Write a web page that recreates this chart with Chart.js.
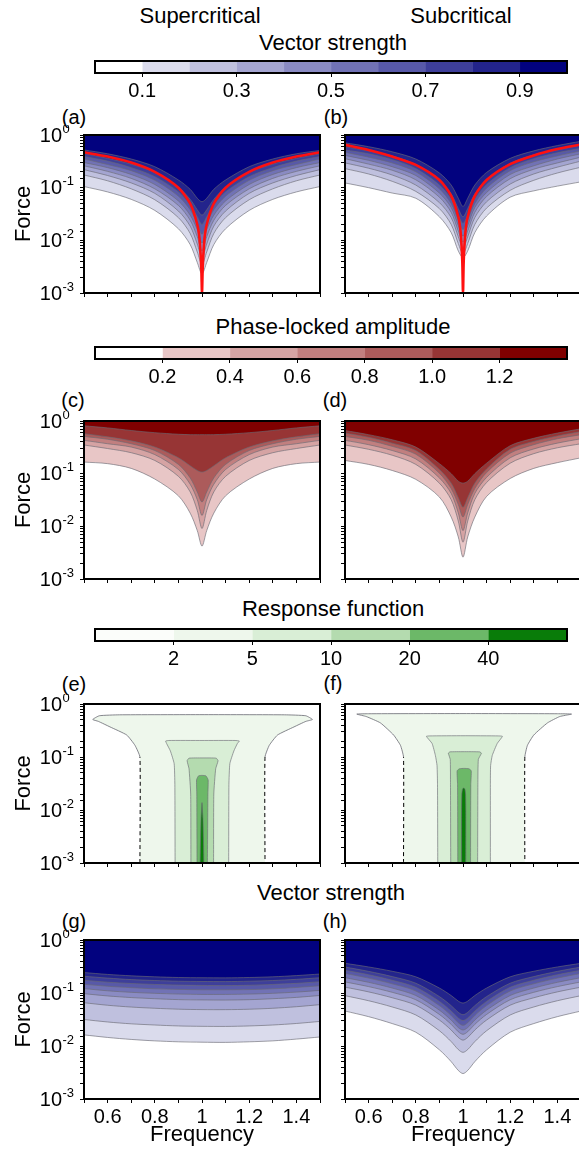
<!DOCTYPE html>
<html lang="en">
<head>
<meta charset="utf-8">
<title>Phase locking maps</title>
<script src="https://cdn.jsdelivr.net/npm/chart.js@4.4.1/dist/chart.umd.min.js"></script>
<style>
  html, body { margin: 0; padding: 0; background: #fff; overflow: hidden; }
  body { position: relative; width: 579px; height: 1151px; font-family: "Liberation Sans", Arial, Helvetica, sans-serif; color: #000; }
  canvas { position: absolute; display: block; }
  .txt { position: absolute; white-space: nowrap; line-height: 1; transform: translate(-50%, -50%); }
  .head { font-size: 22px; }
  .tag { font-size: 20px; }
</style>
</head>
<body>
<div class="txt head" style="left:200px;top:16px">Supercritical</div>
<div class="txt head" style="left:461px;top:16px">Subcritical</div>
<div class="txt head" style="left:333px;top:43px">Vector strength</div>
<div class="txt tag" style="left:74px;top:117px">(a)</div>
<div class="txt tag" style="left:336px;top:117px">(b)</div>
<div class="txt head" style="left:333px;top:327px">Phase-locked amplitude</div>
<div class="txt tag" style="left:73px;top:400px">(c)</div>
<div class="txt tag" style="left:335px;top:400px">(d)</div>
<div class="txt head" style="left:333px;top:609px">Response function</div>
<div class="txt tag" style="left:74px;top:684px">(e)</div>
<div class="txt tag" style="left:333px;top:683px">(f)</div>
<div class="txt head" style="left:331px;top:893px">Vector strength</div>
<div class="txt tag" style="left:74px;top:921px">(g)</div>
<div class="txt tag" style="left:335px;top:921px">(h)</div>

<script>
Chart.defaults.font.family = '"Liberation Sans", Arial, Helvetica, sans-serif';
Chart.defaults.color = '#000';
Chart.defaults.elements.point.radius = 0;

// ---------- shared axes ----------
const freqGrid = [0.5, 0.6, 0.7, 0.8, 0.9, 0.95, 0.98, 1.0, 1.02, 1.05, 1.1, 1.2, 1.3, 1.4, 1.5];
const freqTongue = [0.5, 0.6, 0.7, 0.8, 0.9, 0.95, 0.98, 0.99, 0.997, 1.0, 1.003, 1.01, 1.02, 1.05, 1.1, 1.2, 1.3, 1.4, 1.5];
const freqWeak = [0.5, 0.6, 0.7, 0.8, 0.9, 1.0, 1.1, 1.2, 1.3, 1.4, 1.5];
const freqTickValues = [0.6, 0.8, 1.0, 1.2, 1.4];
const freqTickLabels = ['0.6', '0.8', '1', '1.2', '1.4'];
const forceDecades = [1, 0.1, 0.01, 0.001];
const forceExponents = ['0', '-1', '-2', '-3'];

// ---------- colour scales ----------
const vsBounds = [0, 0.1, 0.2, 0.3, 0.4, 0.5, 0.6, 0.7, 0.8, 0.9, 1.0];
const vsColors = ['#ffffff', '#dadbec', '#bfc0de', '#a4a5d1', '#8a8bc3', '#7172b5', '#5859a8', '#3e3f9a', '#23248c', '#02027f'];
const vsTickValues = [0.1, 0.3, 0.5, 0.7, 0.9];
const vsTickLabels = ['0.1', '0.3', '0.5', '0.7', '0.9'];

const ampBounds = [0, 0.2, 0.4, 0.6, 0.8, 1.0, 1.2, 1.4];
const ampColors = ['#ffffff', '#e8c6c6', '#d5a3a3', '#c17f7f', '#ac5b5b', '#973535', '#800000'];
const ampTickValues = [0.2, 0.4, 0.6, 0.8, 1.0, 1.2];
const ampTickLabels = ['0.2', '0.4', '0.6', '0.8', '1.0', '1.2'];

const respLevels = [2, 5, 10, 20, 40];
const respColors = ['#fbfdfa', '#eef7ec', '#d9eed6', '#b4dbaf', '#6cb868', '#097c09'];

// ---------- (a) vector strength, supercritical: force on each level 0.1 ... 0.9 ----------
const vsSuper = [
  [0.105, 0.083, 0.060, 0.037, 0.0166, 0.0083, 0.0038, 0.0023, 0.0038, 0.0083, 0.0166, 0.037, 0.060, 0.083, 0.105],
  [0.174, 0.135, 0.095, 0.059, 0.027, 0.0135, 0.006, 0.0035, 0.006, 0.0135, 0.027, 0.059, 0.095, 0.135, 0.174],
  [0.22, 0.17, 0.123, 0.078, 0.036, 0.0186, 0.0085, 0.0047, 0.0085, 0.0186, 0.036, 0.078, 0.123, 0.17, 0.22],
  [0.26, 0.204, 0.15, 0.095, 0.046, 0.024, 0.0117, 0.0063, 0.0117, 0.024, 0.046, 0.095, 0.15, 0.204, 0.26],
  [0.30, 0.24, 0.178, 0.115, 0.056, 0.030, 0.016, 0.0089, 0.016, 0.030, 0.056, 0.115, 0.178, 0.24, 0.30],
  [0.35, 0.275, 0.21, 0.138, 0.069, 0.038, 0.021, 0.013, 0.021, 0.038, 0.069, 0.138, 0.21, 0.275, 0.35],
  [0.39, 0.32, 0.24, 0.162, 0.083, 0.047, 0.028, 0.020, 0.028, 0.047, 0.083, 0.162, 0.24, 0.32, 0.39],
  [0.45, 0.36, 0.28, 0.195, 0.102, 0.060, 0.038, 0.030, 0.038, 0.060, 0.102, 0.195, 0.28, 0.36, 0.44],
  [0.52, 0.44, 0.35, 0.25, 0.14, 0.093, 0.063, 0.054, 0.063, 0.093, 0.14, 0.25, 0.35, 0.44, 0.51]
];
const tongueSuper = [0.47, 0.39, 0.30, 0.20, 0.10, 0.05, 0.02, 0.01, 0.003, 0.001, 0.003, 0.01, 0.02, 0.05, 0.10, 0.20, 0.30, 0.39, 0.47];

// ---------- (b) vector strength, subcritical ----------
const vsSub = [
  [0.123, 0.10, 0.079, 0.063, 0.028, 0.014, 0.0063, 0.0047, 0.0063, 0.014, 0.029, 0.066, 0.087, 0.107, 0.129],
  [0.23, 0.182, 0.132, 0.085, 0.040, 0.020, 0.0087, 0.0056, 0.0087, 0.020, 0.041, 0.089, 0.138, 0.19, 0.245],
  [0.295, 0.234, 0.174, 0.112, 0.052, 0.027, 0.0117, 0.0072, 0.0117, 0.027, 0.054, 0.117, 0.182, 0.245, 0.32],
  [0.355, 0.28, 0.214, 0.141, 0.066, 0.034, 0.015, 0.0093, 0.015, 0.034, 0.068, 0.148, 0.224, 0.295, 0.38],
  [0.41, 0.33, 0.25, 0.17, 0.079, 0.042, 0.019, 0.012, 0.019, 0.042, 0.081, 0.178, 0.26, 0.35, 0.44],
  [0.47, 0.38, 0.295, 0.20, 0.095, 0.050, 0.024, 0.016, 0.024, 0.050, 0.098, 0.21, 0.31, 0.40, 0.50],
  [0.52, 0.44, 0.34, 0.23, 0.112, 0.060, 0.030, 0.021, 0.030, 0.060, 0.115, 0.24, 0.355, 0.46, 0.56],
  [0.60, 0.50, 0.40, 0.275, 0.138, 0.076, 0.040, 0.028, 0.040, 0.076, 0.141, 0.29, 0.42, 0.52, 0.65],
  [0.71, 0.60, 0.48, 0.35, 0.19, 0.112, 0.063, 0.044, 0.063, 0.112, 0.195, 0.36, 0.50, 0.63, 0.76]
];
const tongueSub = [0.65, 0.52, 0.39, 0.27, 0.14, 0.07, 0.028, 0.014, 0.004, 0.001, 0.004, 0.014, 0.028, 0.07, 0.14, 0.28, 0.41, 0.54, 0.66];

// ---------- (c) phase-locked amplitude, supercritical: levels 0.2 ... 1.2 ----------
const ampSuper = [
  [0.166, 0.155, 0.126, 0.079, 0.038, 0.0178, 0.0083, 0.0042, 0.0083, 0.0178, 0.038, 0.079, 0.126, 0.155, 0.166],
  [0.35, 0.30, 0.25, 0.178, 0.089, 0.045, 0.020, 0.0091, 0.020, 0.045, 0.089, 0.178, 0.25, 0.30, 0.35],
  [0.43, 0.37, 0.32, 0.23, 0.12, 0.063, 0.032, 0.016, 0.032, 0.063, 0.12, 0.23, 0.32, 0.37, 0.43],
  [0.51, 0.45, 0.37, 0.275, 0.15, 0.083, 0.045, 0.029, 0.045, 0.083, 0.15, 0.275, 0.37, 0.45, 0.51],
  [0.575, 0.50, 0.42, 0.32, 0.20, 0.141, 0.115, 0.107, 0.115, 0.141, 0.20, 0.32, 0.42, 0.50, 0.575],
  [0.81, 0.74, 0.66, 0.60, 0.56, 0.55, 0.55, 0.55, 0.55, 0.55, 0.56, 0.60, 0.66, 0.74, 0.81]
];

// ---------- (d) phase-locked amplitude, subcritical ----------
const ampSub = [
  [0.178, 0.15, 0.115, 0.078, 0.036, 0.015, 0.0063, 0.0026, 0.0063, 0.015, 0.037, 0.081, 0.126, 0.162, 0.20],
  [0.35, 0.29, 0.224, 0.15, 0.066, 0.032, 0.0126, 0.005, 0.0126, 0.032, 0.068, 0.158, 0.24, 0.31, 0.37],
  [0.43, 0.355, 0.275, 0.19, 0.083, 0.042, 0.018, 0.0083, 0.018, 0.042, 0.085, 0.20, 0.295, 0.38, 0.46],
  [0.51, 0.43, 0.33, 0.234, 0.102, 0.052, 0.026, 0.015, 0.026, 0.052, 0.105, 0.245, 0.355, 0.46, 0.55],
  [0.59, 0.49, 0.38, 0.275, 0.12, 0.066, 0.035, 0.023, 0.035, 0.066, 0.123, 0.29, 0.41, 0.52, 0.63],
  [0.66, 0.55, 0.44, 0.32, 0.155, 0.10, 0.072, 0.066, 0.072, 0.10, 0.158, 0.34, 0.47, 0.59, 0.71]
];

// ---------- (e) response function, supercritical: closed contours [freq, force] for 2,5,10,20,40 ----------
const respSuper = [
  [[0.737, 0.737, 0.716, 0.681, 0.61, 0.561, 0.537, 0.565, 0.65, 1.0, 1.35, 1.44, 1.468, 1.44, 1.39, 1.32, 1.285, 1.267, 1.267],
   [0.001, 0.1, 0.166, 0.26, 0.37, 0.47, 0.51, 0.60, 0.625, 0.63, 0.625, 0.60, 0.51, 0.47, 0.37, 0.26, 0.166, 0.1, 0.001]],
  [[0.886, 0.885, 0.882, 0.866, 0.85, 0.846, 0.86, 1.0, 1.14, 1.158, 1.15, 1.135, 1.118, 1.114, 1.113],
   [0.001, 0.03, 0.075, 0.13, 0.18, 0.2, 0.205, 0.205, 0.205, 0.2, 0.18, 0.13, 0.075, 0.03, 0.001]],
  [[0.953, 0.952, 0.945, 0.937, 0.945, 1.0, 1.06, 1.068, 1.058, 1.05, 1.049],
   [0.001, 0.02, 0.06, 0.085, 0.095, 0.096, 0.095, 0.085, 0.06, 0.02, 0.001]],
  [[0.979, 0.978, 0.977, 0.985, 1.0, 1.017, 1.026, 1.025, 1.023],
   [0.001, 0.02, 0.037, 0.044, 0.045, 0.044, 0.037, 0.02, 0.001]],
  [[0.992, 0.994, 0.996, 0.999, 1.0, 1.001, 1.004, 1.006, 1.008],
   [0.001, 0.003, 0.007, 0.012, 0.0138, 0.012, 0.007, 0.003, 0.001]]
];

// ---------- (f) response function, subcritical ----------
const respSub = [
  [[0.748, 0.748, 0.735, 0.706, 0.65, 0.59, 0.55, 0.6, 1.0, 1.4, 1.46, 1.41, 1.358, 1.30, 1.273, 1.262, 1.262],
   [0.001, 0.1, 0.166, 0.26, 0.44, 0.58, 0.645, 0.655, 0.66, 0.655, 0.645, 0.58, 0.44, 0.26, 0.166, 0.1, 0.001]],
  [[0.893, 0.892, 0.89, 0.883, 0.869, 0.845, 0.86, 1.0, 1.15, 1.167, 1.145, 1.124, 1.117, 1.116, 1.116],
   [0.001, 0.03, 0.069, 0.107, 0.18, 0.245, 0.25, 0.252, 0.25, 0.245, 0.18, 0.107, 0.069, 0.03, 0.001]],
  [[0.948, 0.947, 0.946, 0.938, 0.945, 1.0, 1.07, 1.078, 1.065, 1.063, 1.062],
   [0.001, 0.03, 0.09, 0.118, 0.125, 0.126, 0.125, 0.118, 0.09, 0.03, 0.001]],
  [[0.978, 0.977, 0.975, 0.985, 1.005, 1.025, 1.035, 1.033, 1.032],
   [0.001, 0.03, 0.055, 0.06, 0.061, 0.06, 0.055, 0.03, 0.001]],
  [[0.994, 0.994, 0.995, 0.998, 1.003, 1.008, 1.011, 1.012, 1.012],
   [0.001, 0.01, 0.02, 0.025, 0.026, 0.025, 0.02, 0.01, 0.001]]
];

// ---------- (g) vector strength, supercritical, weak forcing ----------
const vsWeakSuper = [
  [0.0162, 0.0145, 0.0133, 0.0125, 0.012, 0.0118, 0.0117, 0.012, 0.0125, 0.0135, 0.0148],
  [0.0316, 0.0284, 0.0262, 0.0249, 0.0239, 0.0235, 0.0234, 0.0239, 0.0249, 0.0266, 0.0291],
  [0.0655, 0.0587, 0.0543, 0.0515, 0.0495, 0.0486, 0.0485, 0.0494, 0.0515, 0.0551, 0.0603],
  [0.097, 0.088, 0.082, 0.078, 0.075, 0.074, 0.0736, 0.0748, 0.078, 0.0826, 0.0898],
  [0.121, 0.110, 0.103, 0.0986, 0.0955, 0.094, 0.094, 0.0953, 0.0986, 0.104, 0.112],
  [0.146, 0.134, 0.126, 0.120, 0.117, 0.115, 0.115, 0.116, 0.120, 0.127, 0.137],
  [0.174, 0.160, 0.151, 0.145, 0.141, 0.139, 0.138, 0.140, 0.145, 0.152, 0.163],
  [0.207, 0.191, 0.179, 0.172, 0.167, 0.165, 0.164, 0.167, 0.172, 0.181, 0.194],
  [0.243, 0.224, 0.211, 0.202, 0.196, 0.194, 0.193, 0.196, 0.202, 0.213, 0.228]
];

// ---------- (h) vector strength, subcritical, weak forcing ----------
const vsWeakSub = [
  [0.0457, 0.0358, 0.0265, 0.0182, 0.00847, 0.00506, 0.00346, 0.00302, 0.00346, 0.00506, 0.00847, 0.0182, 0.0265, 0.0358, 0.0457],
  [0.0891, 0.0715, 0.0545, 0.0385, 0.0194, 0.0121, 0.00857, 0.00759, 0.00857, 0.0121, 0.0194, 0.0385, 0.0545, 0.0715, 0.0891],
  [0.129, 0.105, 0.0813, 0.0589, 0.0309, 0.020, 0.0145, 0.0129, 0.0145, 0.020, 0.0309, 0.0589, 0.0813, 0.105, 0.129],
  [0.162, 0.132, 0.103, 0.0746, 0.0394, 0.0256, 0.0186, 0.0166, 0.0186, 0.0256, 0.0394, 0.0746, 0.103, 0.132, 0.162],
  [0.195, 0.159, 0.124, 0.0897, 0.0474, 0.0308, 0.0223, 0.020, 0.0223, 0.0308, 0.0474, 0.0897, 0.124, 0.159, 0.195],
  [0.234, 0.191, 0.149, 0.109, 0.0578, 0.0377, 0.0275, 0.0245, 0.0275, 0.0377, 0.0578, 0.109, 0.149, 0.191, 0.234],
  [0.269, 0.221, 0.174, 0.128, 0.0693, 0.0457, 0.0337, 0.0302, 0.0337, 0.0457, 0.0693, 0.128, 0.174, 0.221, 0.269],
  [0.309, 0.256, 0.204, 0.153, 0.0855, 0.0577, 0.0432, 0.0389, 0.0432, 0.0577, 0.0855, 0.153, 0.204, 0.256, 0.309],
  [0.363, 0.31, 0.257, 0.202, 0.124, 0.0895, 0.0703, 0.0646, 0.0703, 0.0895, 0.124, 0.202, 0.257, 0.31, 0.363]
];

// ---------- drawing ----------
const CONTOUR = 'rgba(105,105,115,0.8)';
const FONT = '"Liberation Sans", Arial, Helvetica, sans-serif';

const toPoints = (xs, ys) => xs.map((x, i) => ({ x, y: ys[i] }));

// black box round the plot area
const framePlugin = {
  id: 'frame',
  afterDraw(chart) {
    const a = chart.chartArea, ctx = chart.ctx;
    ctx.save();
    ctx.strokeStyle = '#000';
    ctx.lineWidth = 2;
    ctx.strokeRect(a.left, a.top, a.right - a.left, a.bottom - a.top);
    ctx.restore();
  }
};

// 10^k labels on the force axis, with a raised exponent
const decadePlugin = {
  id: 'decades',
  afterDraw(chart, args, opts) {
    if (!opts.show) return;
    const y = chart.scales.y, ctx = chart.ctx;
    ctx.save();
    ctx.fillStyle = '#000';
    ctx.textBaseline = 'middle';
    forceDecades.forEach((v, i) => {
      const py = y.getPixelForValue(v);
      ctx.font = '20px ' + FONT;
      ctx.textAlign = 'right';
      ctx.fillText('10', 62, py + 1);
      ctx.font = '13px ' + FONT;
      ctx.textAlign = 'left';
      ctx.fillText(forceExponents[i], 62.5, py - 6);
    });
    ctx.restore();
  }
};

function makeCanvas(box) {
  const c = document.createElement('canvas');
  c.width = box.w;
  c.height = box.h;
  c.style.left = box.x + 'px';
  c.style.top = box.y + 'px';
  c.style.width = box.w + 'px';
  c.style.height = box.h + 'px';
  document.body.appendChild(c);
  return c;
}

// stacked filled contours, each filled up to the top; darkest band last so it paints on top
function tongueSets(xs, rows, colors) {
  return rows.map((ys, i) => ({
    data: toPoints(xs, ys),
    fill: 'end',
    backgroundColor: colors[i + 1],
    borderColor: CONTOUR,
    borderWidth: 0.8,
    tension: 0.3
  })).reverse();
}

function tongueLine(ys) {
  return { data: toPoints(freqTongue, ys), fill: false, borderColor: '#ff1010', borderWidth: 2.6, tension: 0.25 };
}

const isVertical = c => c.p0.parsed.x === c.p1.parsed.x;

// closed response islands; the outer one is filled without a border and
// outlined separately so its vertical sides below 0.1 can be dashed
function islandSets(shapes, colors) {
  const fills = shapes.map((s, i) => ({
    data: toPoints(s[0], s[1]),
    fill: 'shape',
    backgroundColor: colors[i + 1],
    borderColor: i === 0 ? 'rgba(0,0,0,0)' : CONTOUR,
    borderWidth: i === 0 ? 0.1 : 0.8,
    tension: 0.15
  }));
  const outline = {
    data: toPoints(shapes[0][0], shapes[0][1]),
    fill: false,
    borderColor: CONTOUR,
    borderWidth: 1,
    tension: 0.15,
    segment: {
      borderColor: c => isVertical(c) ? '#000' : undefined,
      borderDash: c => isVertical(c) ? [4, 3] : undefined
    }
  };
  return fills.slice(1).reverse().concat([outline, fills[0]]);
}

const COLS = [
  { x: 0, w: 330, l: 84, r: 320 },
  { x: 334, w: 260, l: 345, r: 581 }
];
const ROWS = [
  { y: 125, h: 180, t: 135, b: 293 },
  { y: 411, h: 180, t: 421, b: 579 },
  { y: 694, h: 181, t: 704, b: 863 },
  { y: 930, h: 221, t: 940, b: 1099 }
];

function panel(col, row, datasets) {
  const c = COLS[col], r = ROWS[row];
  const box = { x: c.x, y: r.y, w: c.w, h: r.h };
  const first = col === 0, last = row === 3;
  new Chart(makeCanvas(box), {
    type: 'line',
    data: { datasets },
    options: {
      responsive: false,
      animation: false,
      events: [],
      layout: { padding: { left: 0, top: r.t - r.y, right: c.x + c.w - c.r, bottom: 0 } },
      plugins: { legend: { display: false }, tooltip: { enabled: false }, decades: { show: first } },
      scales: {
        x: {
          type: 'linear', min: 0.5, max: 1.5,
          afterFit: s => { s.height = r.y + r.h - r.b; },
          border: { display: false },
          grid: { drawOnChartArea: false, drawTicks: true, tickLength: 4, color: '#000', lineWidth: 1 },
          ticks: {
            display: last, stepSize: 0.1, autoSkip: false, maxRotation: 0, padding: 2,
            font: { size: 20 },
            callback: v => {
              const k = freqTickValues.findIndex(t => Math.abs(t - v) < 1e-6);
              return k < 0 ? '' : freqTickLabels[k];
            }
          },
          title: { display: last, text: 'Frequency', font: { size: 22, lineHeight: 1.2 }, padding: { top: 0, bottom: 3 } }
        },
        y: {
          type: 'logarithmic', min: 0.001, max: 1,
          afterFit: s => { s.width = c.l - c.x; },
          border: { display: false },
          grid: { drawOnChartArea: false, drawTicks: true, tickLength: 4, color: '#000', lineWidth: 1 },
          ticks: { display: false },
          title: { display: first, text: 'Force', font: { size: 22, lineHeight: 1.2 }, padding: { top: 11, bottom: 0 } }
        }
      }
    },
    plugins: [framePlugin, decadePlugin]
  });
}

function colorbar(top, bounds, colors, tickValues, tickLabels) {
  const box = { x: 80, y: top - 7, w: 499, h: 46 };
  const area = { l: 95, r: 567, t: top, b: top + 12 };
  new Chart(makeCanvas(box), {
    type: 'bar',
    data: {
      labels: [''],
      datasets: colors.map((col, i) => ({
        data: [[bounds[i], bounds[i + 1]]],
        backgroundColor: col,
        borderWidth: 0,
        grouped: false,
        barPercentage: 1,
        categoryPercentage: 1
      }))
    },
    options: {
      indexAxis: 'y',
      responsive: false,
      animation: false,
      events: [],
      layout: { padding: { left: area.l - box.x, top: area.t - box.y, right: box.x + box.w - area.r, bottom: 0 } },
      plugins: { legend: { display: false }, tooltip: { enabled: false } },
      scales: {
        x: {
          type: 'linear', min: bounds[0], max: bounds[bounds.length - 1],
          afterBuildTicks: s => { s.ticks = tickValues.map(v => ({ value: v })); },
          afterFit: s => { s.height = box.y + box.h - area.b; },
          border: { display: false },
          grid: { drawOnChartArea: false, tickLength: 4, color: '#000' },
          ticks: { autoSkip: false, maxRotation: 0, padding: 2, font: { size: 20 }, callback: (v, i) => tickLabels[i] }
        },
        y: { display: false }
      }
    },
    plugins: [framePlugin]
  });
}

// colour bars
colorbar(61, vsBounds, vsColors, vsTickValues, vsTickLabels);
colorbar(347, ampBounds, ampColors, ampTickValues, ampTickLabels);
const respBounds = [0].concat(respLevels.map((_, i) => i + 1), [respLevels.length + 1]);
colorbar(629, respBounds, respColors, respLevels.map((_, i) => i + 1), respLevels.map(String));

// panels
panel(0, 0, [tongueLine(tongueSuper)].concat(tongueSets(freqGrid, vsSuper, vsColors)));
panel(1, 0, [tongueLine(tongueSub)].concat(tongueSets(freqGrid, vsSub, vsColors)));
panel(0, 1, tongueSets(freqGrid, ampSuper, ampColors));
panel(1, 1, tongueSets(freqGrid, ampSub, ampColors));
panel(0, 2, islandSets(respSuper, respColors));
panel(1, 2, islandSets(respSub, respColors));
panel(0, 3, tongueSets(freqWeak, vsWeakSuper, vsColors));
panel(1, 3, tongueSets(freqGrid, vsWeakSub, vsColors));
</script>
</body>
</html>
